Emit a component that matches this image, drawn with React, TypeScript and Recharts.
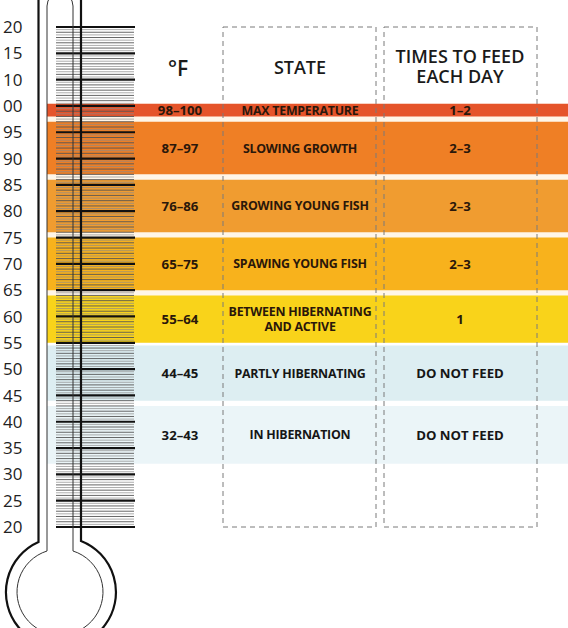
import React from 'react';
import { ComposedChart, XAxis, YAxis, ReferenceArea, Scatter } from 'recharts';

// scale ticks (values) and the labels printed next to them
const tickValues = [20, 25, 30, 35, 40, 45, 50, 55, 60, 65, 70, 75, 80, 85, 90, 95, 100, 105, 110, 115];
const tickLabels = ['20', '25', '30', '35', '40', '45', '50', '55', '60', '65', '70', '75', '80', '85', '90', '95', '00', '10', '15', '20'];

// rows of the table
const ranges = ['98–100', '87–97', '76–86', '65–75', '55–64', '44–45', '32–43'];
const states = [
  'MAX TEMPERATURE',
  'SLOWING GROWTH',
  'GROWING YOUNG FISH',
  'SPAWING YOUNG FISH',
  'BETWEEN HIBERNATING\nAND ACTIVE',
  'PARTLY HIBERNATING',
  'IN HIBERNATION',
];
const feeds = ['1–2', '2–3', '2–3', '2–3', '1', 'DO NOT FEED', 'DO NOT FEED'];
const bandLow = [98, 87, 76, 65, 55, 44, 32];
const bandHigh = [100.4, 97, 86, 75, 64, 54.5, 43];
const bandColors = ['#E5542A', '#EF7F25', '#F09C30', '#F8B21C', '#F9D31A', '#DDEEF2', '#EBF5F8'];

const minorTicks: number[] = [];
for (let v = 20; v <= 115; v += 0.5) if (v % 5 !== 0) minorTicks.push(v);

const W = 568;
const H = 628;
const FONT = '"Open Sans", "Noto Sans", sans-serif';
const colTemp = 180;
const colState = 300;
const colFeed = 460;

const rowsFor = (col: number, texts: string[], size: number, spacing: number) =>
  texts.map((t, i) => ({ x: col, y: (bandLow[i] + bandHigh[i]) / 2, text: t, row: i, size, spacing }));

const MajorTick = (props: any) => {
  const { y, payload } = props;
  const i = tickValues.indexOf(payload.value);
  return (
    <g>
      <line x1={56} x2={135} y1={y} y2={y} stroke="#111" strokeWidth={2.2} />
      <text x={3} y={y} dy="0.36em" fontFamily={FONT} fontSize={17} fill="#222" textAnchor="start">
        {tickLabels[i]}
      </text>
    </g>
  );
};

const MinorTick = (props: any) => {
  const { y, payload } = props;
  const whole = payload.value % 1 === 0;
  return <line x1={56} x2={134} y1={y} y2={y} stroke={whole ? '#555' : '#8a8a8a'} strokeWidth={whole ? 0.9 : 0.7} />;
};

const CellText = (props: any) => {
  const { cx, cy, payload } = props;
  const lines = String(payload.text).split('\n');
  const fill = payload.row < 5 ? '#2a170a' : '#161616';
  return (
    <g>
      {lines.map((l, k) => (
        <text
          key={k}
          x={cx}
          y={cy + (k - (lines.length - 1) / 2) * 14.5}
          dy="0.36em"
          fontFamily={FONT}
          fontWeight={700}
          fontSize={payload.size}
          letterSpacing={payload.spacing}
          fill={fill}
          textAnchor="middle"
        >
          {l}
        </text>
      ))}
    </g>
  );
};

const Overlay = () => (
  <svg width={W} height={H} style={{ position: 'absolute', left: 0, top: 0, pointerEvents: 'none' }}>
    <g fontFamily={FONT} fill="#1a1a1a" textAnchor="middle" fontWeight={600}>
      <text x={178} y={68} dy="0.36em" fontSize={21}>°F</text>
      <text x={colState} y={68} dy="0.36em" fontSize={18}>STATE</text>
      <text x={colFeed} y={57} dy="0.36em" fontSize={18}>TIMES TO FEED</text>
      <text x={colFeed} y={77} dy="0.36em" fontSize={18}>EACH DAY</text>
    </g>
    <g fill="none">
      <path d="M38.5 0 L38.5 542 A55 55 0 1 0 81 541 L81 0" stroke="#111" strokeWidth={2.2} />
      <path d="M47 551 L47 6 A13 13 0 0 1 73 6 L73 551 A43 43 0 1 1 47 551" stroke="#333" strokeWidth={1} />
    </g>
  </svg>
);

export default function App() {
  return (
    <div style={{ position: 'absolute', left: 0, top: 0, width: W, height: H, background: '#fff' }}>
      <ComposedChart width={W} height={H} margin={{ top: 27, right: 0, bottom: 101, left: 45 }}>
        <XAxis type="number" dataKey="x" domain={[47, 568]} hide allowDataOverflow />
        <YAxis
          type="number"
          dataKey="y"
          domain={[20, 115]}
          allowDataOverflow
          ticks={tickValues}
          interval={0}
          width={1}
          axisLine={false}
          tickLine={false}
          tick={<MajorTick />}
        />
        <YAxis
          yAxisId="minor"
          type="number"
          domain={[20, 115]}
          allowDataOverflow
          ticks={minorTicks}
          interval={0}
          width={1}
          axisLine={false}
          tickLine={false}
          tick={<MinorTick />}
        />
        <ReferenceArea y1={55} y2={100.4} fill="#FFF6E8" fillOpacity={1} stroke="none" ifOverflow="visible" />
        {bandLow.map((lo, i) => (
          <ReferenceArea key={i} y1={lo} y2={bandHigh[i]} fill={bandColors[i]} fillOpacity={1} stroke="none" ifOverflow="visible" />
        ))}
        <ReferenceArea x1={223} x2={376} y1={20} y2={115} fill="none" stroke="#7a7a7a" strokeDasharray="5 4" ifOverflow="visible" />
        <ReferenceArea x1={384} x2={537} y1={20} y2={115} fill="none" stroke="#7a7a7a" strokeDasharray="5 4" ifOverflow="visible" />
        <Scatter data={rowsFor(colTemp, ranges, 13.2, 0)} shape={<CellText />} isAnimationActive={false} />
        <Scatter data={rowsFor(colState, states, 12.4, -0.25)} shape={<CellText />} isAnimationActive={false} />
        <Scatter data={rowsFor(colFeed, feeds, 13.2, 0)} shape={<CellText />} isAnimationActive={false} />
      </ComposedChart>
      <Overlay />
    </div>
  );
}
